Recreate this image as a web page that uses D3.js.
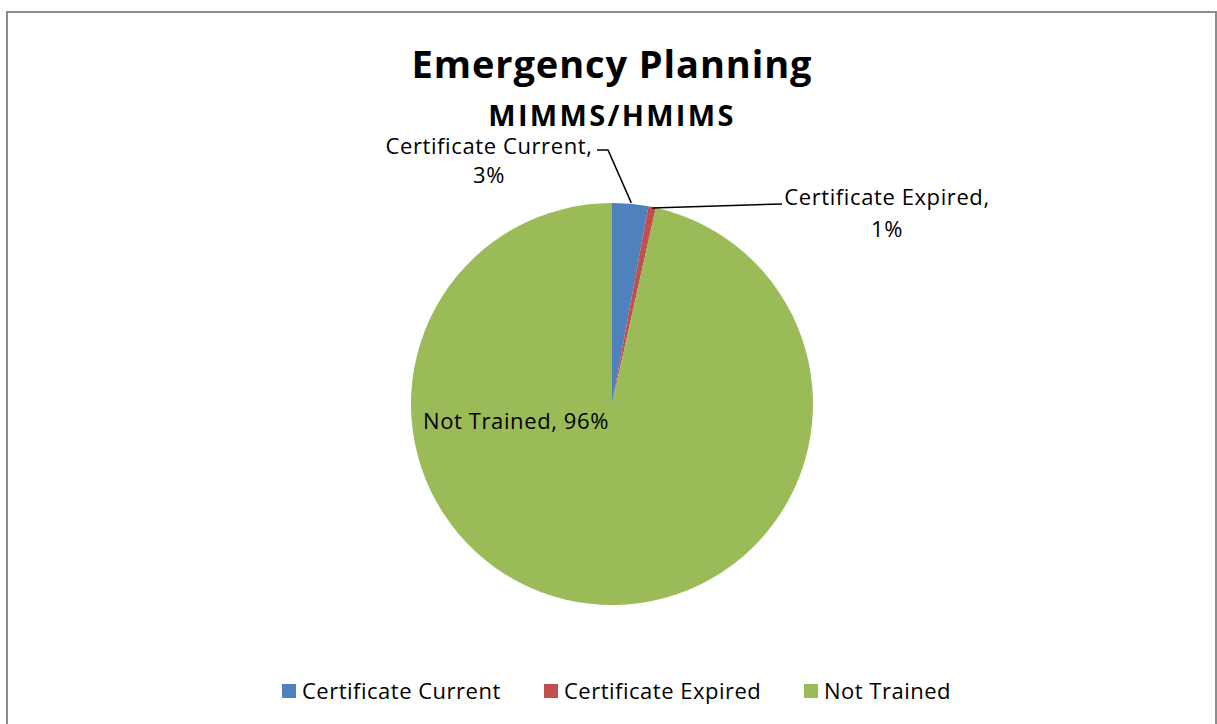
<!DOCTYPE html>
<html>
<head>
<meta charset="utf-8">
<script src="https://cdn.jsdelivr.net/npm/d3@7"></script>
<style>
  body { margin: 0; background: #fff; }
  svg { display: block; font-family: "Open Sans", Lato, sans-serif; }
</style>
</head>
<body>
<div id="chart"></div>
<script>
// data
const categories = ["Certificate Current", "Certificate Expired", "Not Trained"];
const values = [2.9, 0.6, 96.5];
const shownPct = ["3%", "1%", "96%"];
const colors = ["#4F81BD", "#C0504D", "#9BBB59"];

const WIDTH = 1217, HEIGHT = 724;
const CX = 612, CY = 404, R = 201;

const svg = d3.select("#chart").append("svg").attr("width", WIDTH).attr("height", HEIGHT);

// chart frame
svg.append("rect").attr("x", 7).attr("y", 12).attr("width", WIDTH - 8).attr("height", HEIGHT + 20)
  .attr("fill", "none").attr("stroke", "#8c8c8c").attr("stroke-width", 2);

// titles
svg.append("text").attr("x", CX).attr("y", 78).attr("text-anchor", "middle")
  .attr("font-size", 38).attr("font-weight", "bold").attr("letter-spacing", 0.9).text("Emergency Planning");
svg.append("text").attr("x", CX).attr("y", 126).attr("text-anchor", "middle")
  .attr("font-size", 29).attr("font-weight", "bold").attr("letter-spacing", 2.3).text("MIMMS/HMIMS");

const color = d3.scaleOrdinal().domain(categories).range(colors);

const pie = d3.pie().sort(null).value(d => d.value);
const arcs = pie(categories.map((c, i) => ({ key: c, value: values[i], pct: shownPct[i] })));
const arc = d3.arc().innerRadius(0).outerRadius(R);

const g = svg.append("g").attr("transform", "translate(" + CX + "," + CY + ")");
g.selectAll("path").data(arcs).enter().append("path")
  .attr("d", arc).attr("fill", d => color(d.data.key));

// point on the rim in the middle of a slice
function rim(d) {
  const a = (d.startAngle + d.endAngle) / 2;
  return [Math.sin(a) * R, -Math.cos(a) * R];
}

const lab = svg.append("g").attr("font-size", 22).attr("letter-spacing", 0.6).attr("fill", "#000");

// Certificate Current label + leader
const p0 = rim(arcs[0]);
svg.append("polyline").attr("fill", "none").attr("stroke", "#000").attr("stroke-width", 1.5)
  .attr("points", [[597, 150], [608, 150], [CX + p0[0] + 1, CY + p0[1] - 1]].map(p => p.join(",")).join(" "));
lab.append("text").attr("x", 489).attr("y", 154).attr("text-anchor", "middle").text(arcs[0].data.key + ",");
lab.append("text").attr("x", 489).attr("y", 183).attr("text-anchor", "middle").text(arcs[0].data.pct);

// Certificate Expired label + leader
const p1 = rim(arcs[1]);
svg.append("polyline").attr("fill", "none").attr("stroke", "#000").attr("stroke-width", 1.5)
  .attr("points", [[CX + p1[0], CY + p1[1] + 1], [782, 204]].map(p => p.join(",")).join(" "));
lab.append("text").attr("x", 887).attr("y", 205).attr("text-anchor", "middle").text(arcs[1].data.key + ",");
lab.append("text").attr("x", 887).attr("y", 237).attr("text-anchor", "middle").text(arcs[1].data.pct);

// Not Trained label inside
lab.append("text").attr("x", 516).attr("y", 429).attr("text-anchor", "middle").text(arcs[2].data.key + ", " + arcs[2].data.pct);

// legend
const legX = [282, 544, 804];
const legend = svg.append("g").attr("font-size", 22).attr("letter-spacing", 0.5);
categories.forEach((c, i) => {
  const row = legend.append("g").attr("transform", "translate(" + legX[i] + ",684)");
  row.append("rect").attr("width", 14).attr("height", 14).attr("fill", color(c));
  row.append("text").attr("x", 20).attr("y", 15).text(c);
});
</script>
</body>
</html>
